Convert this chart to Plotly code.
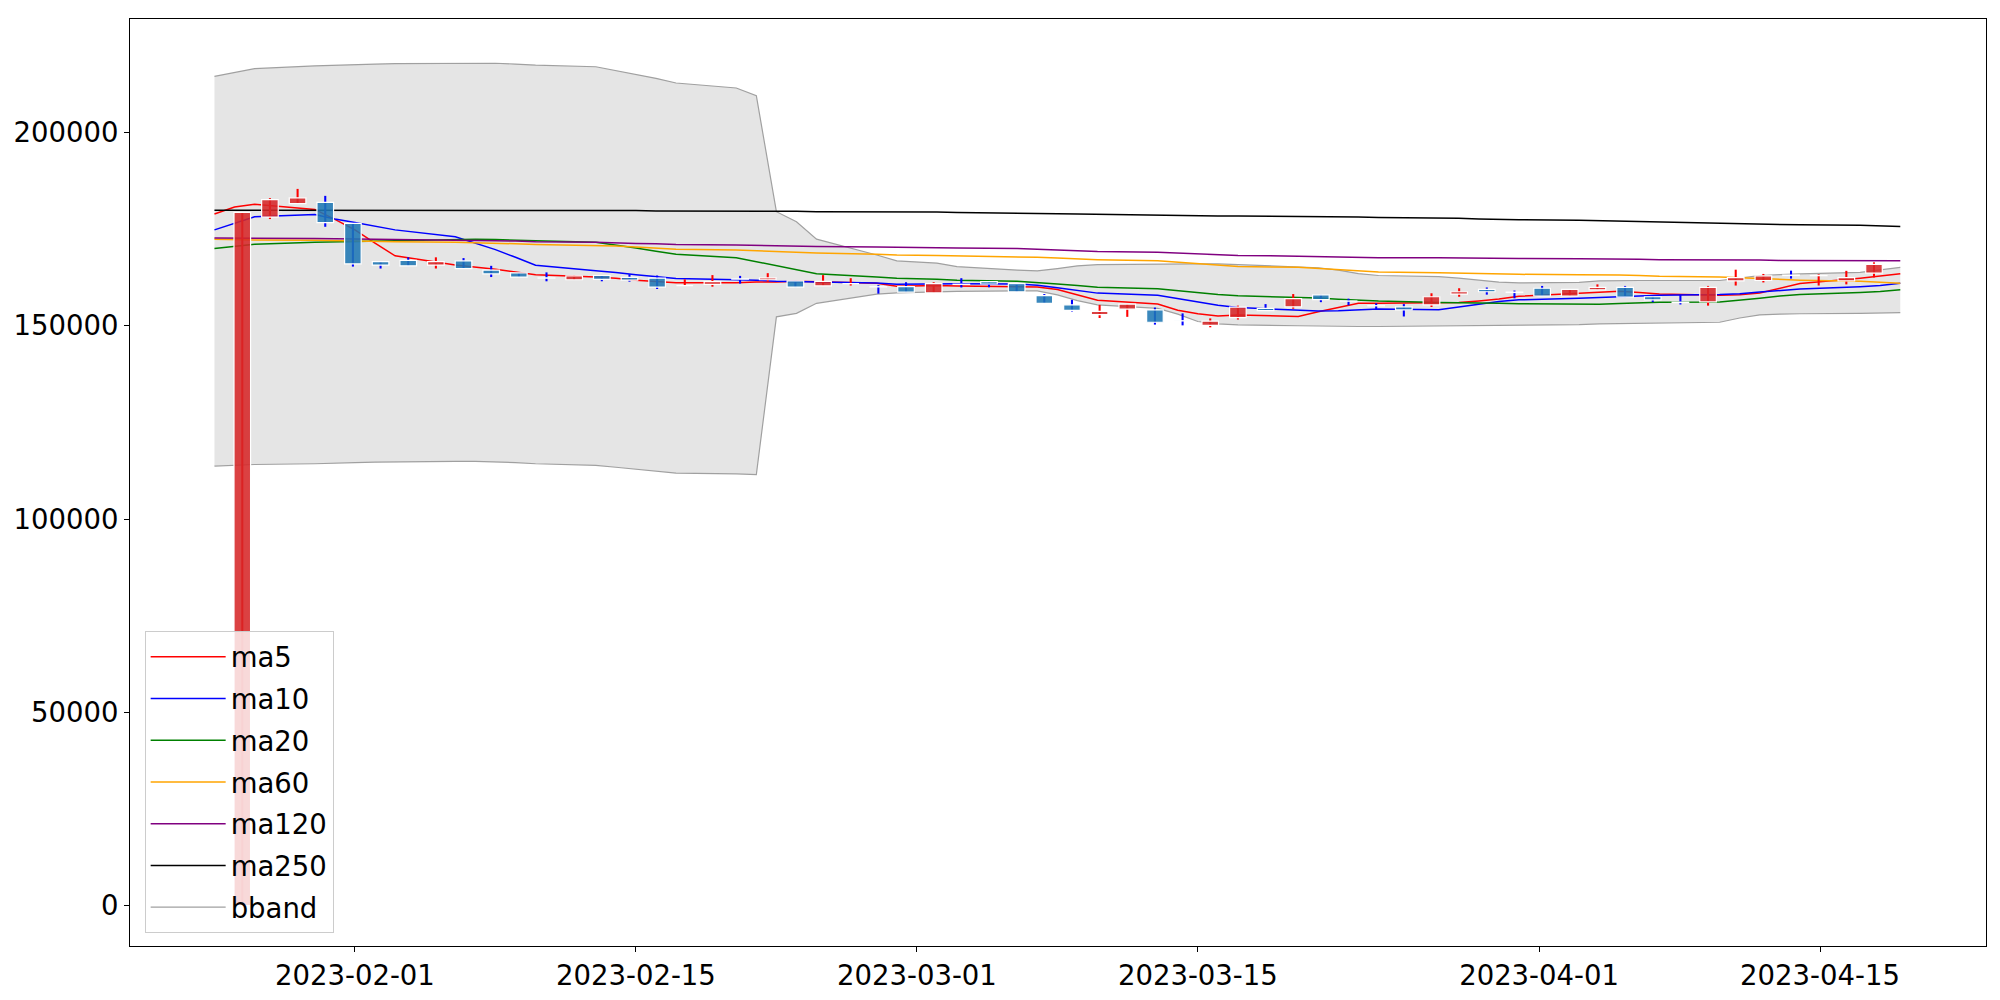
import plotly.graph_objects as go

dates = ["2023-01-25","2023-01-26","2023-01-27","2023-01-30","2023-01-31","2023-02-01","2023-02-02","2023-02-03",
         "2023-02-06","2023-02-07","2023-02-08","2023-02-09","2023-02-10","2023-02-13","2023-02-14","2023-02-15",
         "2023-02-16","2023-02-17","2023-02-20","2023-02-21","2023-02-22","2023-02-23","2023-02-24","2023-02-27",
         "2023-02-28","2023-03-02","2023-03-03","2023-03-06","2023-03-07","2023-03-08","2023-03-09","2023-03-10",
         "2023-03-13","2023-03-14","2023-03-15","2023-03-16","2023-03-17","2023-03-20","2023-03-21","2023-03-22",
         "2023-03-23","2023-03-24","2023-03-27","2023-03-28","2023-03-29","2023-03-30","2023-03-31","2023-04-03",
         "2023-04-04","2023-04-05","2023-04-06","2023-04-07","2023-04-10","2023-04-11","2023-04-12","2023-04-13",
         "2023-04-14","2023-04-17","2023-04-18","2023-04-19"]

open_ = [0,178100,181600,181900,176500,166600,166900,165700,166800,164400,
         163700,162400,161900,163000,162500,162300,160400,160700,162150,161900,
         161600,160300,160900,160100,160100,158500,160750,161400,160900,157800,
         155400,152900,154300,154100,151300,150100,152100,154500,154900,158000,
         156400,155200,154900,155400,158200,159400,158700,159700,157700,159300,
         159900,157500,156100,156150,161600,161700,163100,162950,161600,163600]
high = [179300,183000,185400,183600,176500,166600,167700,167700,167500,165500,
        163700,163800,163100,163000,163300,163000,162000,163100,162900,163600,
        161600,163100,162300,160500,161250,161250,162300,161400,160900,158200,
        156700,155400,155600,154700,153200,151900,155200,155600,158200,158000,
        157000,155800,155600,158400,159700,159900,159100,160300,159400,160700,
        160300,157500,158050,160300,164500,163400,164250,163300,164200,166400]
low = [0,177600,181600,175600,165300,164800,165500,164800,164800,162600,
       162600,161500,161900,161500,161400,159500,160400,160100,160900,161400,
       160000,160300,160400,158300,158700,158500,159900,159950,158800,155800,
       153700,152000,152300,150300,150100,149600,151600,153900,154400,156100,
       155300,154300,152400,154850,157500,158050,157100,157700,157700,159300,
       157400,156100,155500,155200,160400,161200,162200,160400,160700,162500]
close = [179300,182600,183100,176700,166000,165700,165500,166600,164800,163400,
         162600,162300,162900,162000,161800,160000,160400,161400,162050,162400,
         160000,161500,160900,160050,158700,160900,160700,160800,158800,155800,
         154000,153700,155600,150900,151250,151200,154800,153900,157000,156750,
         156350,155150,154100,157500,158800,158800,158600,157700,159400,159950,
         157400,156700,156000,159950,162450,162900,163000,163000,162450,165900]

ma5 = [178900,180700,181400,180100,177500,174800,171400,168100,165700,165200,
       164600,163900,163200,162600,162300,161800,161400,161100,161100,161300,
       161300,161500,161400,161000,160200,160400,160300,160200,160000,159400,
       158000,156600,155600,154000,153100,152500,152800,152400,153600,154700,
       155800,155850,155900,156000,156400,156900,157600,158300,158700,158900,
       158600,158200,157900,158000,158500,159600,160900,162300,162800,163450]
ma10 = [174800,176500,178200,178800,177600,176700,175700,174800,173000,171400,
        169700,167700,165650,164200,163800,163200,162700,162200,161900,161800,
        161500,161450,161250,161060,160750,160840,160870,160810,160480,159820,
        159220,158440,157910,156990,156250,155280,154690,154000,153820,153900,
        154160,154300,154160,154800,155570,156300,156700,157100,157300,157600,
        157700,157900,158100,158300,158700,159100,159500,160100,160400,161000]
ma20 = [170000,170600,171100,171600,171700,171800,171900,172000,172300,172400,
        172300,172200,172000,171600,170900,170100,169300,168500,167600,166600,
        165600,164560,163450,162620,162260,162000,161780,161490,161190,160800,
        160380,159950,159580,159030,158500,158060,157780,157400,157150,156870,
        156690,156370,156030,155900,155910,155800,155700,155540,155570,155780,
        155950,156100,156120,156570,157130,157700,158100,158600,158850,159300]
ma60 = [172400,172300,172200,172100,172000,171900,171800,171700,171600,171500,
        171400,171200,171000,170800,170600,170400,170100,169800,169600,169400,
        169200,169000,168800,168500,168300,168200,168100,167900,167700,167500,
        167300,167100,166800,166400,166000,165600,165300,165100,164800,164500,
        164200,163900,163700,163600,163500,163400,163300,163200,163200,163100,
        163000,162800,162600,162400,162200,162000,161800,161500,161200,161000]
ma120 = [172700,172700,172600,172600,172500,172500,172400,172300,172200,172100,
         172000,171900,171700,171600,171400,171300,171200,171000,170900,170800,
         170700,170600,170500,170400,170300,170200,170100,170000,169800,169600,
         169400,169200,169000,168800,168600,168400,168200,168000,167900,167800,
         167700,167600,167600,167500,167500,167400,167400,167300,167300,167200,
         167200,167100,167100,167000,167000,166900,166900,166900,166800,166800]
ma250 = [179900,179900,179900,179900,179900,179900,179900,179900,179900,179900,
         179800,179800,179800,179800,179800,179800,179700,179700,179700,179700,
         179600,179600,179500,179500,179400,179400,179300,179200,179100,179000,
         178900,178800,178700,178600,178500,178400,178400,178300,178300,178200,
         178100,178000,177900,177800,177600,177500,177400,177300,177200,177000,
         176900,176800,176600,176500,176400,176200,176100,176000,175800,175700]
bb_upper = [214500,215500,216500,217200,217400,217600,217700,217800,217900,218000,
            217900,217700,217400,217000,216000,215000,214000,212800,211500,209500,
            179500,176900,172400,168300,166800,166200,165300,164400,164200,164800,
            165500,165800,166000,166000,166000,166000,165800,165300,165000,164400,
            163500,163000,162700,162300,161800,161300,161100,161200,161600,161700,
            161700,161700,161700,162300,163000,163200,163400,163800,164500,165100]
bb_lower = [113700,113900,114100,114300,114500,114600,114700,114800,114900,114900,
            114800,114600,114300,113900,113400,112900,112300,111900,111700,111500,
            152300,153200,155800,158200,158500,158700,158900,159000,159000,158000,
            156500,155400,154500,153000,151100,150500,150200,150000,149900,149800,
            149800,149800,149900,150000,150000,150100,150200,150300,150500,150600,
            150600,150700,150900,152000,152800,153000,153100,153200,153300,153400]

ma_names = ["ma5", "ma10", "ma20", "ma60", "ma120", "ma250"]
ma_values = [ma5, ma10, ma20, ma60, ma120, ma250]
ma_colors = ["#ff0000", "#0000ff", "#008000", "#ffa500", "#800080", "#000000"]

FONT = "DejaVu Sans"
fig = go.Figure()

# Bollinger band
fig.add_trace(go.Scatter(x=dates, y=bb_upper, mode="lines", line=dict(color="#a0a0a0", width=1.2),
                         showlegend=False, hoverinfo="skip"))
fig.add_trace(go.Scatter(x=dates, y=bb_lower, mode="lines", line=dict(color="#a0a0a0", width=1.2),
                         fill="tonexty", fillcolor="rgba(211,211,211,0.6)", showlegend=False, hoverinfo="skip"))

for n, v, c in zip(ma_names, ma_values, ma_colors):
    fig.add_trace(go.Scatter(x=dates, y=v, mode="lines", name=n, line=dict(color=c, width=1.5),
                             legendgroup=n))
fig.add_trace(go.Scatter(x=[None], y=[None], mode="lines", name="bband",
                         line=dict(color="#a0a0a0", width=1.2), legendgroup="bband"))

# Candles on a trading-day index axis (wicks and bodies drawn as bars, in order)
idx = list(range(len(dates)))
up = [c >= o for o, c in zip(open_, close)]
groups = {True: ([], [], [], [], []), False: ([], [], [], [], [])}
for i in idx:
    gx, wb, wh, bb, bh = groups[up[i]]
    gx.append(i)
    wb.append(low[i])
    wh.append(high[i] - low[i])
    bb.append(min(open_[i], close[i]))
    bh.append(abs(close[i] - open_[i]))

wick_col = {True: "#ff0000", False: "#0000ff"}
body_col = {True: "rgba(214,39,40,0.88)", False: "rgba(31,119,180,0.88)"}
for k in (True, False):
    gx, wb, wh, bb, bh = groups[k]
    fig.add_trace(go.Bar(x=gx, y=wh, base=wb, width=0.075, marker=dict(color=wick_col[k], line=dict(width=0)),
                         xaxis="x2", yaxis="y", showlegend=False, hoverinfo="skip"))
for k in (True, False):
    gx, wb, wh, bb, bh = groups[k]
    fig.add_trace(go.Bar(x=gx, y=bh, base=bb, width=0.6,
                         marker=dict(color=body_col[k], line=dict(color="white", width=1.2)),
                         xaxis="x2", yaxis="y", showlegend=False))

axis_common = dict(showline=True, linecolor="black", linewidth=1.2, mirror=True, ticks="outside",
                   ticklen=5, tickwidth=1.1, tickcolor="black", showgrid=False, zeroline=False,
                   automargin=False, tickfont=dict(family=FONT, size=27.5, color="black"))

# page body has an 8px margin: figure is 1992x992 so that the plot sits where the reference has it
fig.update_layout(
    width=1992, height=992,
    margin=dict(l=122, r=14, t=11, b=54),
    plot_bgcolor="white", paper_bgcolor="white",
    barmode="overlay",
    font=dict(family=FONT, size=27.5, color="black"),
    xaxis=dict(type="date", range=["2023-01-20 19:00", "2023-04-23 06:30"],
               tickvals=["2023-02-01", "2023-02-15", "2023-03-01", "2023-03-15", "2023-04-01", "2023-04-15"],
               tickformat="%Y-%m-%d", **axis_common),
    xaxis2=dict(overlaying="x", anchor="y", range=[-4.06, 63.05], visible=False),
    yaxis=dict(range=[-10450, 229350], tickvals=[0, 50000, 100000, 150000, 200000], tickformat="d",
               **axis_common),
    legend=dict(x=0.0079, y=0.0137, xanchor="left", yanchor="bottom", bgcolor="rgba(255,255,255,0.8)",
                bordercolor="#cccccc", borderwidth=1, font=dict(family=FONT, size=27.5, color="black"),
                tracegroupgap=3, traceorder="grouped", itemwidth=75),
)

fig.write_html("out.html")
